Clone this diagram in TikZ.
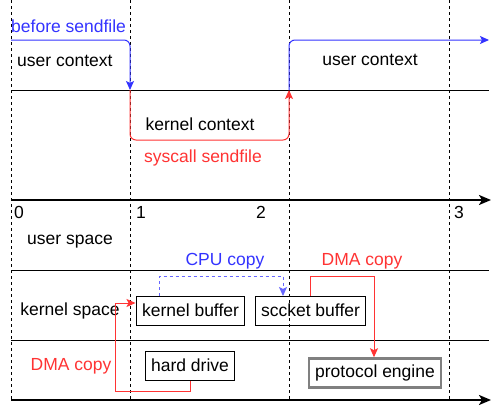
\documentclass[tikz,border=0pt]{standalone}
\usepackage{fontspec}
\setmainfont{Liberation Sans}
\usetikzlibrary{arrows.meta}
\definecolor{ublue}{RGB}{51,51,255}
\definecolor{lblue}{RGB}{102,102,255}
\definecolor{kred}{RGB}{255,51,51}
\definecolor{pgray}{RGB}{128,128,128}
\begin{document}
\begin{tikzpicture}[x=1pt,y=-1pt,font=\fontsize{17.5}{21}\selectfont]
    \tikzstyle{box}=[draw=black,line width=1pt,inner xsep=6pt,inner ysep=0pt,minimum height=29pt]
    \tikzstyle{txt}=[inner sep=0pt]
    \tikzstyle{tip}=[-{Stealth[length=9pt,width=8pt,inset=2pt]}]
    \tikzstyle{grid}=[black,dash pattern=on 3pt off 3pt,line width=0.8pt]
    \useasboundingbox (0,0) rectangle (499,410);
    % time marks
    \foreach \x in {11,130,289,449}
        \draw[grid] (\x,0) -- (\x,400);
    \draw[line width=0.8pt] (11,90) -- (489,90);
    \draw[line width=0.8pt] (11,270) -- (489,270);
    \draw[line width=0.8pt] (11,340) -- (489,340);
    \draw[line width=2pt,-{Stealth[length=12pt,width=10pt,inset=3pt]}] (11,200) -- (491,200);
    \draw[line width=2pt,-{Stealth[length=12pt,width=10pt,inset=3pt]}] (11,400) -- (491,400);
    % labels
    \node[txt,text=ublue,anchor=west] (bs) at (11,26) {before sendfile};
    \node[txt,anchor=west] (uc) at (17,61) {user context};
    \node[txt] (kc) at (200,124) {kernel context};
    \node[txt,text=kred] (sc) at (203,158) {syscall sendfile};
    \node[txt] (ucr) at (370,60) {user context};
    \node[txt,anchor=west] (t0) at (14,212) {0};
    \node[txt,anchor=west] (t1) at (136,212) {1};
    \node[txt] (t2) at (261,212) {2};
    \node[txt] (t3) at (459,212) {3};
    \node[txt] (us) at (70,242) {user space};
    \node[txt] (ks) at (70,311) {kernel space};
    \node[txt,text=kred] (dl) at (71,366) {DMA copy};
    \node[txt,text=ublue] (cpu) at (225,261) {CPU copy};
    \node[txt,text=kred] (dr) at (362,261) {DMA copy};
    % buffers
    \node[box] (kb) at (190.5,310.5) {kernel buffer};
    \node[box] (hd) at (190,365.5) {hard drive};
    \node[box] (sb) at (310.5,310.5) {sccket buffer};
    \node[box,draw=pgray,line width=2.5pt] (pe) at (375,373) {protocol engine};
    \coordinate (s0) at (11,40);
    \coordinate (s1) at (130,90);
    \coordinate (s2) at (289,90);
    \coordinate (s3) at (489,40);
    % context switches
    \draw[ublue,line width=1pt,tip,rounded corners=6pt] (s0) -| (s1);
    \draw[kred,line width=1pt,tip,rounded corners=6pt] (s1) |- (210,140) -| (s2);
    \draw[ublue,line width=1pt,tip,rounded corners=6pt] (s2) |- (s3);
    % copies
    \draw[lblue,line width=1pt,dashed,tip] ([xshift=-31.5pt]kb.north) |- (283,276) -- (283,296);
    \draw[kred,line width=1pt,tip] (sb.north) |- (374,276) -- (pe.north -| 374,0);
    \draw[kred,line width=1pt,tip] (hd.south) |- (115,391) |- ([yshift=7.5pt]kb.west);
\end{tikzpicture}
\end{document}
